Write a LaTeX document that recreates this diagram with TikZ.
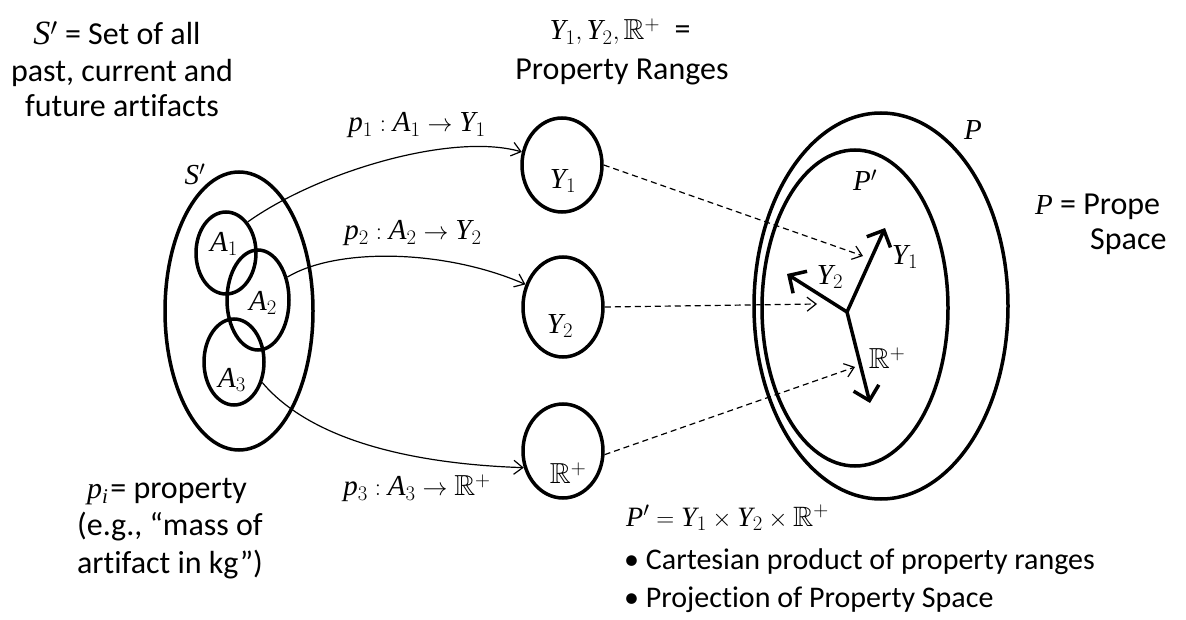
\documentclass[tikz,border=0pt]{standalone}
\usepackage{amssymb}
\usepackage{fontspec}
\setmainfont{Carlito}[Ligatures=CommonOff]
\newfontfamily\timesfam{Liberation Serif}[NFSSFamily=libser]
\DeclareSymbolFont{timit}{TU}{libser}{m}{it}
\DeclareSymbolFont{timrm}{TU}{libser}{m}{n}
\makeatletter
\count@=`A
\loop \Umathcode\count@=7 \symtimit \count@ \ifnum\count@<`Z \advance\count@ by 1 \repeat
\count@=`a
\loop \Umathcode\count@=7 \symtimit \count@ \ifnum\count@<`z \advance\count@ by 1 \repeat
\count@=`0
\loop \Umathcode\count@=0 \symtimrm \count@ \ifnum\count@<`9 \advance\count@ by 1 \repeat
\makeatother
\usetikzlibrary{shapes.geometric,arrows.meta}
\tikzset{
  ell/.style={draw, ellipse, line width=3.5pt, inner sep=0pt},
  maparrow/.style={line width=1.2pt, -{Straight Barb[length=9pt,width=14pt]}},
  projarrow/.style={line width=1.2pt, dash pattern=on 6pt off 4pt, -{Straight Barb[length=9pt,width=14pt]}},
  axisarrow/.style={line width=3.5pt, -{Straight Barb[length=13pt,width=26pt]}},
  mlab/.style={font=\fontsize{29}{30}\selectfont, inner sep=0pt},
  txt/.style={font=\fontsize{32}{34}\selectfont, inner sep=0pt, anchor=base},
  txtw/.style={txt, anchor=base west},
  btxt/.style={font=\fontsize{30}{34}\selectfont, inner sep=0pt, anchor=base west},
}
\begin{document}
\begin{tikzpicture}[x=1pt,y=-1pt]
\useasboundingbox (0,0) rectangle (1186,620);
% S' and subsets
\node[ell, minimum width=148pt, minimum height=278pt] (S) at (239,311) {};
\node[ell, minimum width=60pt, minimum height=82pt] (A1) at (226,253) {};
\node[ell, minimum width=62pt, minimum height=100pt] (A2) at (258,300) {};
\node[ell, minimum width=60pt, minimum height=86pt] (A3) at (234,362) {};
\node[mlab] (lS) at (195,174) {$S'$};
\node[mlab] (lA1) at (224,244) {$A_1$};
\node[mlab] (lA2) at (263,303) {$A_2$};
\node[mlab] (lA3) at (232,380) {$A_3$};
% ranges
\node[ell, minimum width=80pt, minimum height=94pt] (Y1) at (562,165) {};
\node[ell, minimum width=80pt, minimum height=100pt] (Y2) at (563,307) {};
\node[ell, minimum width=80pt, minimum height=94pt] (R) at (563,451) {};
\node[mlab] (lY1) at (563,181) {$Y_1$};
\node[mlab] (lY2) at (560,326) {$Y_2$};
\node[mlab] (lR) at (568,473) {$\mathbb{R}^+$};
% property space
\node[ell, minimum width=254pt, minimum height=386pt] (P) at (881,306) {};
\node[ell, minimum width=186pt, minimum height=316pt] (Pp) at (855,308) {};
\node[mlab] (lP) at (973,130) {$P$};
\node[mlab] (lPp) at (865,180) {$P'$};
% axes
\coordinate (O) at (847,312);
\coordinate (ax1) at (885,228);
\coordinate (ax2) at (787,274);
\coordinate (ax3) at (870,403);
\draw[axisarrow] (O) -- (ax1);
\draw[axisarrow] (O) -- (ax2);
\draw[axisarrow] (O) -- (ax3);
\node[mlab] (lax1) at (905,257) {$Y_1$};
\node[mlab] (lax2) at (830,277) {$Y_2$};
\node[mlab] (lax3) at (887,358) {$\mathbb{R}^+$};
% mapping arrows
\draw[maparrow] (A1.55) .. controls +(70,-50) and +(-70,-20) .. (Y1.162);
\draw[maparrow] (A2.38) .. controls +(50,-30) and +(-80,-35) .. (Y2.149);
\draw[maparrow] (A3.-36) .. controls +(55,65) and +(-90,-3) .. (R.-157);
\node[mlab] (lp1) at (417,125) {$p_1 : A_1 \rightarrow Y_1$};
\node[mlab] (lp2) at (413,233) {$p_2 : A_2 \rightarrow Y_2$};
\node[mlab] (lp3) at (417,488) {$p_3 : A_3 \rightarrow \mathbb{R}^+$};
% projection arrows
\coordinate (d1) at (863,256);
\coordinate (d2) at (817,304);
\coordinate (d3) at (855,367);
\draw[projarrow] (Y1.east) -- (d1);
\draw[projarrow] (Y2.east) -- (d2);
\draw[projarrow] (R.-5) -- (d3);
% texts
\node[txt] (t1a) at (117,45) {{\fontsize{34}{34}\selectfont$S'$} = Set of all};
\node[txt] (t1b) at (122,82) {past, current and};
\node[txt] (t1c) at (122,117) {future artifacts};
\node[txt] (t2a) at (620,40) {{\fontsize{29}{30}\selectfont$Y_1, Y_2, \mathbb{R}^+$}\ \ =};
\node[txt] (t2b) at (622,80) {Property Ranges};
\node[txtw] (t3a) at (1035,215) {{\fontsize{29}{30}\selectfont$P$} = Prope};
\node[txtw] (t3b) at (1090,250) {Space};
\node[txt] (t4a) at (167,498) {{\fontsize{30}{30}\selectfont$p_i$}\kern2pt= property};
\node[txt] (t4b) at (170,535) {(e.g., “mass of};
\node[txt] (t4c) at (170,573) {artifact in kg”)};
\node[anchor=base west, inner sep=0pt, font=\fontsize{28}{30}\selectfont] (t5a) at (626,526) {$P' = Y_1 \times Y_2 \times \mathbb{R}^+$};
\node[btxt] (t5b) at (624,569) {• Cartesian product of property ranges};
\node[btxt] (t5c) at (624,607) {• Projection of Property Space};
\end{tikzpicture}
\end{document}
